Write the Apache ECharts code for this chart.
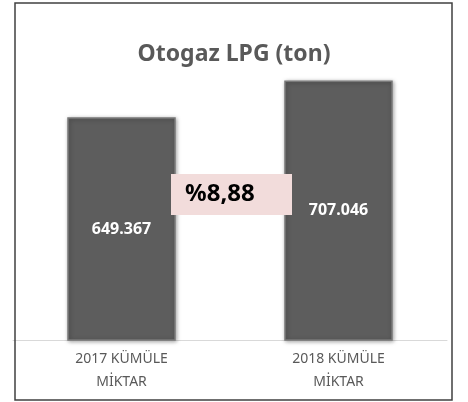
<!DOCTYPE html>
<html>
<head>
<meta charset="utf-8">
<script src="https://cdn.jsdelivr.net/npm/echarts@6/dist/echarts.min.js"></script>
<style>
  html, body { margin: 0; padding: 0; background: #fff; }
  #chart-container { width: 468px; height: 402px; }
</style>
</head>
<body>
<div id="chart-container"></div>
<script>
var dom = document.getElementById("chart-container");
var myChart = echarts.init(dom, null, { renderer: "canvas" });

// data
var categories = ["2017 KÜMÜLE\nMİKTAR", "2018 KÜMÜLE\nMİKTAR"];
var values = [649367, 707046];
var valueLabels = ["649.367", "707.046"];
var changeText = "%8,88";
var titleText = "Otogaz LPG (ton)";

var font = "Noto Sans";

var option = {
  animation: false,
  title: {
    text: titleText,
    left: "center",
    top: 38,
    textStyle: { fontFamily: font, fontSize: 23, fontWeight: "bold", color: "#595959" }
  },
  grid: { left: 13, right: 21, top: 53, bottom: 62 },
  xAxis: {
    type: "category",
    data: categories,
    axisLine: { lineStyle: { color: "#d9d9d9" } },
    axisTick: { show: false },
    axisLabel: {
      fontFamily: font,
      fontSize: 14,
      color: "#595959",
      lineHeight: 23,
      margin: 8
    }
  },
  yAxis: {
    type: "value",
    min: 300000,
    max: 750000,
    show: false,
    splitLine: { show: false }
  },
  series: [
    {
      type: "bar",
      barWidth: "50%",
      data: values,
      itemStyle: {
        color: "#5d5d5d",
        borderColor: "#7a7a7a",
        borderWidth: 1.5,
        shadowColor: "rgba(0,0,0,0.35)",
        shadowBlur: 4,
        shadowOffsetX: 1,
        shadowOffsetY: 1
      },
      label: {
        show: true,
        position: "inside",
        formatter: function (p) { return valueLabels[p.dataIndex]; },
        fontFamily: font,
        fontSize: 16,
        fontWeight: "bold",
        color: "#ffffff"
      }
    }
  ],
  graphic: [
    {
      type: "rect",
      shape: { x: 15, y: 3, width: 437, height: 397 },
      style: { fill: "none", stroke: "#404040", lineWidth: 1.5 },
      z: 100
    },
    {
      type: "rect",
      shape: { x: 171, y: 174, width: 121, height: 41 },
      style: { fill: "#f2dcdb" },
      z: 101
    },
    {
      type: "text",
      left: 185,
      top: 182,
      style: {
        text: changeText,
        font: "bold 24px '" + font + "'",
        fill: "#000000"
      },
      z: 102
    }
  ]
};

myChart.setOption(option);
window.addEventListener("resize", myChart.resize);
</script>
</body>
</html>
